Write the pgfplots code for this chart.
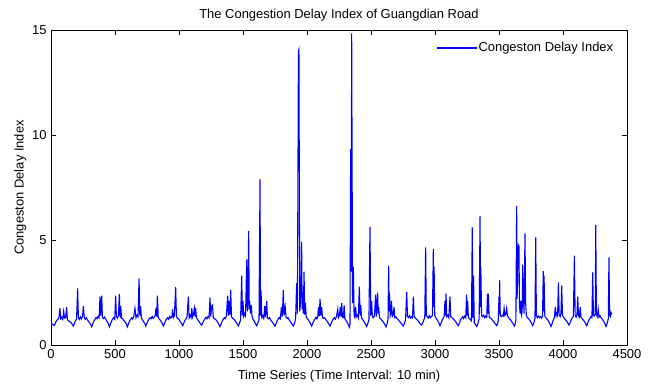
\documentclass[border=0pt]{standalone}
\usepackage{fontspec}
\setmainfont{Liberation Sans}
\usepackage{pgfplots}
\pgfplotsset{compat=1.18}
\usetikzlibrary{calc}
\begin{document}
\fontsize{13}{15}\selectfont
\begin{tikzpicture}
\begin{axis}[
  name=ax,
  scale only axis,
  width=576bp, height=315bp,
  xmin=0, xmax=4500, ymin=0, ymax=15,
  xtick={0,500,...,4500}, ytick={0,5,10,15},
  tick pos=both, xticklabel pos=lower, yticklabel pos=left,
  tick align=inside, major tick length=5bp,
  /pgf/number format/1000 sep={},
  /pgf/number format/assume math mode=true,
  ticklabel style={font=\fontsize{13}{15}\selectfont},
  label style={font=\fontsize{13}{15}\selectfont},
  title style={font=\fontsize{13}{15}\selectfont, yshift=-2bp},
  title={The Congestion Delay Index of Guangdian Road},
  xlabel={Time Series (Time Interval: 10 min)},
  ylabel={Congeston Delay Index},
  xlabel style={yshift=-3bp},
  ylabel style={yshift=-3bp},
  axis line style={line width=0.6pt},
  every tick/.style={line width=0.6pt, black},
  legend style={at={(rel axis cs:0.985,0.975)}, anchor=north east, draw=none, fill=none,
    font=\fontsize{13}{15}\selectfont},
  legend cell align=left,
  legend image code/.code={\color{blue}\fill[blue] (-6bp,-0.25bp) rectangle (32bp,0.25bp);},
]
\addplot[draw=blue, line width=1.1pt] coordinates {
(1,1.08)(6,1.02)(12,0.98)(20,0.95)(26,0.93)(32,1.0)(38,1.1)(46,1.18)(54,1.22)(62,1.3)(70,1.75)(76,1.25)(84,1.32)(92,1.22)(99,1.6)(106,1.28)(114,1.3)(122,1.8)(128,1.2)(134,1.18)(142,1.12)(150,1.1)(158,1.05)(166,0.98)
(174,0.9)(180,0.98)(186,1.08)(192,1.16)(200,1.24)(208,2.7)(214,1.3)(222,1.22)(230,1.34)(238,1.24)(246,1.36)(253,1.85)(260,1.3)(268,1.22)(276,1.3)(286,1.18)(294,1.12)(302,1.05)(310,0.98)
(318,0.87)(324,0.96)(330,1.06)(336,1.15)(344,1.22)(352,1.31)(360,1.25)(368,1.36)(376,1.3)(383,2.3)(389,1.4)(396,2.35)(402,1.3)(410,1.26)(418,1.33)(424,1.26)(432,1.18)(440,1.1)(448,1.02)
(456,0.86)(462,0.95)(468,1.06)(474,1.15)(482,1.24)(490,1.3)(498,1.23)(505,2.35)(511,1.35)(519,1.28)(527,1.4)(534,2.43)(540,1.3)(545,1.85)(551,1.27)(560,1.25)(568,1.18)(576,1.12)(584,1.05)(590,0.98)
(596,0.86)(602,0.95)(608,1.05)(614,1.15)(622,1.22)(630,1.3)(638,1.24)(646,1.33)(656,1.75)(664,1.3)(672,1.42)(680,1.35)(688,3.17)(694,1.4)(700,1.85)(706,1.3)(714,1.2)(722,1.12)(730,1.05)(736,0.98)
(740,0.9)(746,0.98)(752,1.07)(758,1.16)(766,1.23)(774,1.3)(782,1.25)(790,1.36)(798,1.27)(806,1.33)(814,1.4)(820,1.75)(826,1.35)(831,2.35)(838,1.3)(846,1.24)(854,1.18)(862,1.1)(870,1.02)
(878,0.9)(884,0.98)(890,1.08)(896,1.16)(904,1.24)(912,1.3)(920,1.22)(928,1.37)(936,1.28)(944,1.33)(950,1.7)(956,1.3)(964,1.4)(974,2.75)(980,1.35)(988,1.27)(996,1.24)(1004,1.18)(1012,1.1)(1020,1.02)
(1029,0.92)(1035,1.0)(1041,1.1)(1047,1.18)(1055,1.25)(1063,1.35)(1073,2.3)(1079,1.3)(1087,1.42)(1094,1.3)(1100,1.75)(1106,1.33)(1113,1.45)(1120,1.75)(1126,1.35)(1130,1.75)(1136,1.3)(1144,1.22)(1152,1.16)(1160,1.08)(1168,1.0)
(1177,0.95)(1183,1.02)(1189,1.1)(1195,1.18)(1203,1.24)(1211,1.32)(1219,1.25)(1227,1.36)(1235,1.3)(1242,2.25)(1248,1.35)(1255,1.85)(1262,1.9)(1268,1.3)(1276,1.26)(1284,1.22)(1292,1.18)(1300,1.1)(1308,1.02)(1314,0.95)
(1320,0.87)(1326,0.96)(1332,1.06)(1338,1.15)(1346,1.22)(1354,1.3)(1362,1.25)(1370,1.36)(1380,2.35)(1386,1.4)(1393,2.1)(1398,1.45)(1404,2.62)(1410,1.35)(1418,1.28)(1426,1.24)(1434,1.2)(1442,1.12)(1450,1.05)(1457,0.98)
(1463,0.9)(1469,0.98)(1475,1.08)(1481,1.2)(1490,3.3)(1495,1.4)(1500,2.1)(1506,1.35)(1514,1.5)(1520,1.4)(1529,4.08)(1534,1.6)(1539,2.2)(1544,5.44)(1549,1.7)(1552,2.1)(1558,1.5)(1565,1.9)(1571,1.35)(1579,1.22)(1587,1.15)(1595,1.05)(1601,0.98)
(1607,0.92)(1613,1.0)(1619,1.1)(1625,1.2)(1633,7.89)(1637,1.4)(1641,2.6)(1647,1.3)(1655,1.38)(1662,1.27)(1670,1.85)(1676,1.32)(1685,2.1)(1691,1.3)(1699,1.25)(1707,1.3)(1715,1.2)(1723,1.14)(1731,1.07)(1740,1.0)
(1750,0.9)(1756,0.98)(1762,1.08)(1768,1.16)(1776,1.24)(1784,1.32)(1792,1.25)(1800,1.8)(1807,1.35)(1815,2.62)(1821,1.4)(1830,1.8)(1836,1.32)(1844,1.27)(1852,1.3)(1860,1.2)(1868,1.14)(1876,1.06)(1885,0.98)
(1893,0.9)(1899,0.98)(1905,1.1)(1911,1.25)(1919,2.94)(1925,1.5)(1933,14.0)(1937,14.08)(1943,1.6)(1950,2.0)(1958,4.92)(1962,1.7)(1966,2.5)(1971,1.5)(1977,3.49)(1982,1.45)(1988,2.0)(1994,1.33)(2002,1.26)(2010,1.2)(2018,1.12)(2026,1.04)
(2036,0.9)(2042,0.98)(2048,1.08)(2054,1.16)(2062,1.24)(2070,1.32)(2078,1.24)(2084,1.36)(2090,1.8)(2096,1.38)(2102,2.2)(2108,1.4)(2115,1.8)(2121,1.3)(2129,1.27)(2137,1.3)(2145,1.22)(2153,1.16)(2161,1.1)(2170,1.0)
(2180,0.9)(2186,0.98)(2192,1.07)(2198,1.16)(2206,1.24)(2214,1.3)(2222,1.23)(2230,1.35)(2240,1.7)(2246,1.3)(2253,1.4)(2260,1.8)(2266,1.35)(2271,2.0)(2277,1.32)(2285,1.3)(2290,1.9)(2296,1.25)(2304,1.18)(2312,1.1)(2320,1.0)(2326,0.92)
(2331,0.85)(2336,1.0)(2341,9.33)(2345,3.5)(2349,14.84)(2356,2.0)(2362,3.73)(2368,1.4)(2374,1.32)(2380,1.8)(2386,1.35)(2394,1.42)(2401,1.3)(2409,2.78)(2415,1.4)(2420,1.9)(2426,1.3)(2434,1.22)(2442,1.15)(2450,1.06)(2458,0.98)
(2466,0.88)(2472,0.97)(2478,1.08)(2484,1.2)(2492,5.63)(2498,1.4)(2505,2.1)(2511,1.35)(2519,1.3)(2527,1.38)(2536,2.4)(2542,1.35)(2552,2.49)(2556,1.5)(2560,1.8)(2566,1.3)(2574,1.26)(2582,1.2)(2590,1.14)(2598,1.07)(2608,0.98)
(2617,0.86)(2623,0.96)(2629,1.1)(2633,1.25)(2638,3.78)(2642,1.6)(2645,2.45)(2650,1.4)(2655,1.5)(2660,2.1)(2666,1.35)(2673,1.42)(2680,1.8)(2686,1.3)(2694,1.34)(2702,1.26)(2710,1.22)(2718,1.16)(2726,1.1)(2734,1.04)(2744,0.97)
(2752,0.9)(2758,0.98)(2764,1.08)(2770,1.2)(2779,2.53)(2785,1.35)(2793,1.3)(2801,1.4)(2809,1.28)(2817,1.35)(2824,1.3)(2831,2.3)(2837,1.38)(2845,1.3)(2853,1.24)(2861,1.2)(2869,1.14)(2877,1.08)(2886,1.0)
(2896,0.95)(2902,1.02)(2908,1.12)(2914,1.22)(2920,1.3)(2927,4.65)(2932,1.4)(2940,1.35)(2948,1.28)(2956,1.4)(2964,1.3)(2972,1.36)(2980,1.4)(2987,4.56)(2990,1.8)(2993,3.73)(2998,1.4)(3006,1.3)(3014,1.22)(3022,1.15)(3030,1.05)
(3039,0.92)(3045,1.0)(3051,1.1)(3057,1.2)(3065,1.28)(3071,1.36)(3078,2.1)(3082,1.4)(3086,2.45)(3092,1.35)(3100,1.42)(3108,1.3)(3117,2.3)(3123,1.35)(3131,1.3)(3139,1.26)(3147,1.22)(3155,1.16)(3163,1.1)(3172,1.0)
(3182,0.92)(3188,1.0)(3194,1.1)(3200,1.2)(3208,1.28)(3216,1.35)(3224,1.26)(3232,1.38)(3240,1.3)(3247,2.4)(3251,1.4)(3255,2.1)(3261,1.3)(3269,1.26)(3277,1.2)(3285,1.15)(3291,5.6)(3297,1.3)(3301,3.3)(3307,1.05)(3315,0.98)
(3326,0.88)(3332,0.98)(3338,1.1)(3345,1.25)(3352,6.14)(3356,1.8)(3358,3.7)(3364,1.4)(3372,1.35)(3380,1.42)(3388,1.3)(3396,1.38)(3404,1.32)(3410,2.45)(3414,1.5)(3417,2.45)(3423,1.35)(3431,1.3)(3439,1.26)(3447,1.2)(3455,1.14)(3463,1.08)(3472,1.0)
(3482,0.92)(3488,1.0)(3494,1.15)(3500,2.3)(3503,1.5)(3505,3.1)(3510,1.4)(3518,1.35)(3526,1.42)(3534,1.38)(3540,1.75)(3546,1.4)(3552,1.45)(3560,1.75)(3566,1.38)(3574,1.32)(3582,1.25)(3590,1.2)(3598,1.12)(3606,1.05)(3613,0.98)
(3620,0.9)(3626,1.0)(3632,1.2)(3638,6.62)(3641,2.2)(3644,2.7)(3647,4.0)(3651,4.76)(3656,4.7)(3660,1.9)(3665,1.5)(3670,2.1)(3676,1.45)(3681,1.6)(3685,3.81)(3690,2.3)(3696,1.5)(3703,5.32)(3708,2.0)(3714,1.4)(3722,1.3)(3730,1.26)(3738,1.2)(3746,1.12)(3754,1.04)
(3763,0.92)(3769,1.0)(3775,1.1)(3781,1.25)(3787,5.13)(3792,1.4)(3800,1.3)(3808,1.38)(3816,1.3)(3824,1.35)(3832,1.28)(3840,1.36)(3846,3.52)(3849,1.6)(3852,3.3)(3858,1.35)(3866,1.3)(3874,1.24)(3882,1.18)(3890,1.1)(3898,1.0)
(3906,0.88)(3912,0.97)(3918,1.08)(3924,1.18)(3932,1.3)(3940,1.8)(3946,1.38)(3952,1.5)(3958,1.4)(3964,2.98)(3970,1.45)(3978,1.35)(3984,1.5)(3990,2.83)(3996,1.4)(4004,1.32)(4012,1.26)(4020,1.2)(4028,1.14)(4036,1.06)
(4047,0.95)(4053,1.02)(4059,1.12)(4065,1.22)(4073,1.3)(4081,1.36)(4089,4.25)(4095,1.4)(4103,1.33)(4109,1.45)(4115,2.3)(4121,1.38)(4128,1.32)(4135,1.8)(4141,1.3)(4149,1.26)(4157,1.2)(4165,1.14)(4173,1.06)(4180,0.98)
(4185,0.92)(4191,1.0)(4197,1.1)(4203,1.2)(4211,1.28)(4219,1.35)(4226,1.3)(4232,3.46)(4238,1.4)(4246,1.38)(4252,1.5)(4256,5.71)(4261,1.45)(4268,1.35)(4275,1.7)(4281,1.32)(4289,1.4)(4297,1.3)(4305,1.25)(4313,1.18)(4321,1.1)(4329,1.0)
(4336,0.88)(4342,0.98)(4348,1.1)(4354,1.25)(4359,4.17)(4364,1.4)(4370,1.35)(4375,1.55)(4380,1.45)
};
\addlegendentry{Congeston Delay Index}
\end{axis}
\path ($(ax.south west)+(-51bp,-36bp)$) rectangle ($(ax.north east)+(29bp,30bp)$);
\end{tikzpicture}
\end{document}
